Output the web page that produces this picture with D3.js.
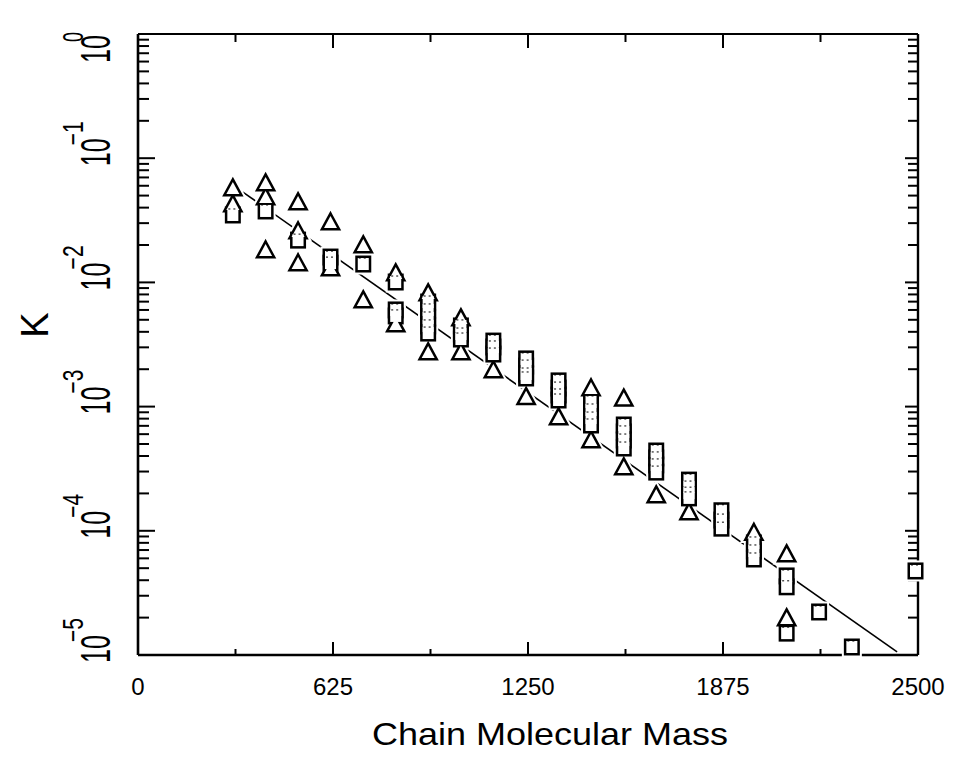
<!DOCTYPE html>
<html>
<head>
<meta charset="utf-8">
<script src="https://cdn.jsdelivr.net/npm/d3@7"></script>
<style>
  html, body { margin: 0; padding: 0; background: #fff; }
  svg { display: block; }
  text { font-family: "Liberation Sans", Arial, sans-serif; fill: #000; }
</style>
</head>
<body>
<svg id="chart" width="954" height="757"></svg>
<script>
// ---- data ----
const xTickValues = [0, 625, 1250, 1875, 2500];
const xTickLabels = ["0", "625", "1250", "1875", "2500"];
const yTickExponents = [0, -1, -2, -3, -4, -5];
const xTitle = "Chain Molecular Mass";
const yTitle = "K";

// triangles: [chain molecular mass, K]
const triangles = [
  [304, 0.0575], [304, 0.0428],
  [409, 0.0631], [409, 0.0487], [409, 0.0182],
  [513, 0.0444], [513, 0.0259], [513, 0.0143],
  [617, 0.0306], [617, 0.01305],
  [722, 0.0200], [722, 0.00722],
  [826, 0.0119], [826, 0.00462],
  [930, 0.00822], [930, 0.00275],
  [1035, 0.00517], [1035, 0.00275],
  [1139, 0.00197],
  [1244, 0.00120],
  [1348, 0.000825],
  [1452, 0.00141], [1452, 0.000538],
  [1557, 0.00117], [1557, 0.000326],
  [1661, 0.000194],
  [1766, 0.000142],
  [1974, 0.0000967],
  [2079, 0.0000651], [2079, 0.0000199]
];

// squares: [chain molecular mass, K]
const squares = [
  [304, 0.0349],
  [409, 0.0376],
  [513, 0.0219],
  [617, 0.0160], [617, 0.0143],
  [722, 0.01406],
  [826, 0.01007], [826, 0.00600], [826, 0.00537],
  [930, 0.00695], [930, 0.00600], [930, 0.00517], [930, 0.00446], [930, 0.00391],
  [1035, 0.00446], [1035, 0.00384], [1035, 0.00350],
  [1139, 0.00337], [1139, 0.00302], [1139, 0.00265],
  [1244, 0.00242], [1244, 0.00212], [1244, 0.00183], [1244, 0.00170],
  [1348, 0.00161], [1348, 0.00141], [1348, 0.00124], [1348, 0.00113],
  [1452, 0.00109], [1452, 0.000939], [1452, 0.000809], [1452, 0.000711],
  [1557, 0.000711], [1557, 0.000625], [1557, 0.000538], [1557, 0.000464],
  [1661, 0.000439], [1661, 0.000386], [1661, 0.000339], [1661, 0.000297],
  [1766, 0.000256], [1766, 0.000225], [1766, 0.000201], [1766, 0.000184],
  [1870, 0.000145], [1870, 0.000122], [1870, 0.000105],
  [1974, 0.0000798], [1974, 0.0000688], [1974, 0.0000593],
  [2079, 0.0000433], [2079, 0.0000354], [2079, 0.0000150],
  [2183, 0.0000222],
  [2288, 0.0000116],
  [2492, 0.0000475]
];

// fitted line: [chain molecular mass, K]
const fitLine = [[336, 0.0534], [2433, 0.0000106]];

// ---- drawing ----
const svg = d3.select("#chart");
const L = 138, R = 918, T = 34, B = 655;

const x = d3.scaleLinear().domain([0, 2500]).range([L, R]);
const y = d3.scaleLog().domain([1e-5, 1]).range([B, T]);

// frame
const frame = svg.append("g").attr("stroke", "#000").attr("fill", "none");
frame.append("line").attr("x1", L).attr("x2", L).attr("y1", T).attr("y2", B).attr("stroke-width", 2.6);
frame.append("line").attr("x1", L).attr("x2", R).attr("y1", B).attr("y2", B).attr("stroke-width", 2.4);
frame.append("line").attr("x1", L).attr("x2", R).attr("y1", T).attr("y2", T).attr("stroke-width", 2);
frame.append("line").attr("x1", R).attr("x2", R).attr("y1", T).attr("y2", B).attr("stroke-width", 2.4);

// x ticks (bottom up, top down)
const xMinor = d3.range(0, 2500.1, 312.5);
const isMajorX = v => Math.abs(v / 625 - Math.round(v / 625)) < 1e-6;
const tk = svg.append("g").attr("stroke", "#000").attr("stroke-width", 2);
xMinor.forEach(v => {
  if (v === 0 || v === 2500) return;
  const len = isMajorX(v) ? 13 : 6;
  tk.append("line").attr("x1", x(v)).attr("x2", x(v)).attr("y1", B).attr("y2", B - len);
  tk.append("line").attr("x1", x(v)).attr("x2", x(v)).attr("y1", T).attr("y2", T + (isMajorX(v) ? 14 : 8));
});

// y ticks (log, left pointing right, right pointing left)
y.ticks().forEach(v => {
  const e = Math.log10(v);
  const major = Math.abs(e - Math.round(e)) < 1e-9;
  if (major && (v === 1 || v === 1e-5)) return;
  const lenL = major ? 17 : 11;
  const lenR = major ? 13 : 10;
  tk.append("line").attr("x1", L).attr("x2", L + lenL).attr("y1", y(v)).attr("y2", y(v));
  tk.append("line").attr("x1", R).attr("x2", R - lenR).attr("y1", y(v)).attr("y2", y(v));
});

// x tick labels
svg.append("g").selectAll("text").data(xTickValues).join("text")
  .attr("x", d => x(d)).attr("y", 695)
  .attr("text-anchor", "middle").attr("font-size", 24)
  .text((d, i) => xTickLabels[i]);

// y tick labels: rotated "10" with superscript exponent
const yl = svg.append("g");
yTickExponents.forEach(e => {
  const ty = y(Math.pow(10, e));
  const bottom = Math.max(ty + 8, 63);
  const g = yl.append("g").attr("transform", `translate(110,${bottom}) rotate(-90)`);
  g.append("text").attr("x", 0).attr("y", 0)
    .attr("font-size", 43).attr("textLength", 28).attr("lengthAdjust", "spacingAndGlyphs")
    .text("10");
  const sup = e === 0 ? "0" : "\u2212" + Math.abs(e);
  g.append("text").attr("x", 21).attr("y", -27)
    .attr("font-size", 29).attr("textLength", e === 0 ? 10 : 24).attr("lengthAdjust", "spacingAndGlyphs")
    .text(sup);
});

// axis titles
svg.append("text").attr("x", 550).attr("y", 745).attr("text-anchor", "middle")
  .attr("font-size", 32).attr("textLength", 356).attr("lengthAdjust", "spacingAndGlyphs")
  .text(xTitle);
svg.append("text").attr("transform", "translate(48,325) rotate(-90)")
  .attr("text-anchor", "middle").attr("font-size", 38)
  .text(yTitle);

// fitted line
const lineGen = d3.line().x(d => x(d[0])).y(d => y(d[1]));
svg.append("path").datum(fitLine).attr("d", lineGen)
  .attr("fill", "none").attr("stroke", "#000").attr("stroke-width", 1.6);

// marker shapes
const triPath = (cx, cy) => {
  const w = 6.5, h = 6;
  return `M${cx},${cy - h} L${cx + w},${cy + h} L${cx - w},${cy + h} Z`;
};
const sqW = 5.5, sqH = 6;

function drawMarks(g) {
  g.selectAll("path").data(triangles).join("path").attr("d", d => triPath(x(d[0]), y(d[1])));
  g.selectAll("rect").data(squares).join("rect")
    .attr("x", d => x(d[0]) - sqW).attr("y", d => y(d[1]) - sqH)
    .attr("width", 2 * sqW).attr("height", 2 * sqH);
}

// white halo (gaps in the line around markers)
drawMarks(svg.append("g").attr("fill", "none").attr("stroke", "#fff").attr("stroke-width", 9));
// black outline (double width, inner half covered by white fill -> merged outline)
drawMarks(svg.append("g").attr("fill", "none").attr("stroke", "#000").attr("stroke-width", 5)
  .attr("stroke-linejoin", "miter"));
drawMarks(svg.append("g").attr("fill", "#fff").attr("stroke", "none"));
// faint dotted interior edges of stacked squares
svg.append("g").attr("fill", "none").attr("stroke", "#000").attr("stroke-width", 1)
  .attr("stroke-dasharray", "2,3")
  .selectAll("line").data(squares).join("line")
  .attr("x1", d => x(d[0]) - sqW + 1).attr("x2", d => x(d[0]) + sqW - 1)
  .attr("y1", d => y(d[1]) - sqH).attr("y2", d => y(d[1]) - sqH);
</script>
</body>
</html>
